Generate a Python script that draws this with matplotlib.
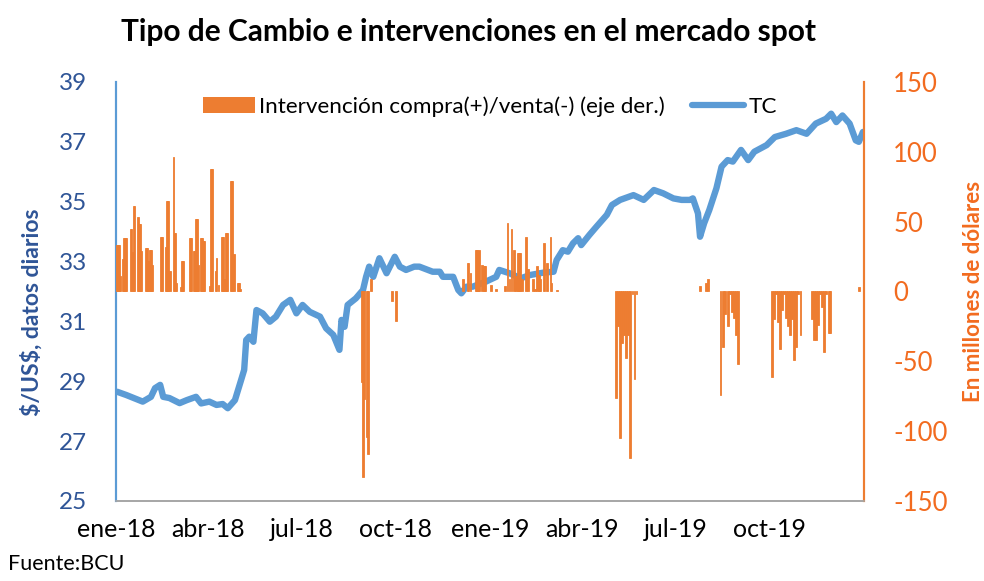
import matplotlib
matplotlib.use("Agg")
import matplotlib.pyplot as plt
import numpy as np
import pandas as pd
from matplotlib.patches import Patch
from matplotlib.lines import Line2D

plt.rcParams['font.family'] = ['Lato', 'DejaVu Sans']
plt.rcParams['axes.unicode_minus'] = False

# ---- Data ----
tc_dates = ["2018-01-02", "2018-01-11", "2018-01-27", "2018-02-04", "2018-02-08", "2018-02-13",
            "2018-02-16", "2018-02-22", "2018-03-04", "2018-03-11", "2018-03-20", "2018-03-25",
            "2018-04-02", "2018-04-09", "2018-04-15", "2018-04-20", "2018-04-27", "2018-05-03",
            "2018-05-06", "2018-05-08", "2018-05-11", "2018-05-15", "2018-05-18", "2018-05-24",
            "2018-05-31", "2018-06-06", "2018-06-13", "2018-06-20", "2018-06-26", "2018-07-02",
            "2018-07-09", "2018-07-19", "2018-07-25", "2018-08-01", "2018-08-07", "2018-08-09",
            "2018-08-12", "2018-08-15", "2018-08-23", "2018-08-30", "2018-09-02", "2018-09-05",
            "2018-09-09", "2018-09-15", "2018-09-22", "2018-09-30", "2018-10-05", "2018-10-11",
            "2018-10-19", "2018-10-24", "2018-11-06", "2018-11-13", "2018-11-16", "2018-11-26",
            "2018-12-01", "2018-12-04", "2018-12-09", "2018-12-15", "2018-12-28", "2019-01-07",
            "2019-01-10", "2019-01-20", "2019-01-31", "2019-02-09", "2019-02-22", "2019-03-04",
            "2019-03-07", "2019-03-13", "2019-03-18", "2019-03-23", "2019-03-28", "2019-03-31",
            "2019-04-08", "2019-04-15", "2019-04-25", "2019-04-30", "2019-05-08", "2019-05-21",
            "2019-05-31", "2019-06-10", "2019-06-19", "2019-06-29", "2019-07-07", "2019-07-15",
            "2019-07-18", "2019-07-23", "2019-07-25", "2019-07-29", "2019-08-03", "2019-08-10",
            "2019-08-15", "2019-08-21", "2019-08-26", "2019-09-03", "2019-09-10", "2019-09-16",
            "2019-09-28", "2019-10-06", "2019-10-17", "2019-10-27", "2019-11-06", "2019-11-15",
            "2019-11-25", "2019-11-30", "2019-12-05", "2019-12-11", "2019-12-18", "2019-12-24",
            "2019-12-27", "2019-12-31"]
tc_values = [28.65, 28.54, 28.32, 28.48, 28.77, 28.88,
             28.48, 28.44, 28.27, 28.37, 28.48, 28.26,
             28.32, 28.21, 28.24, 28.10, 28.37, 29.04,
             29.38, 30.38, 30.49, 30.32, 31.38, 31.27,
             30.99, 31.16, 31.55, 31.72, 31.27, 31.55,
             31.32, 31.16, 30.77, 30.55, 30.05, 31.05,
             30.82, 31.55, 31.77, 32.05, 32.49, 32.83,
             32.49, 33.11, 32.61, 33.16, 32.83, 32.72,
             32.83, 32.83, 32.66, 32.66, 32.49, 32.49,
             32.05, 31.94, 32.16, 32.16, 32.33, 32.49,
             32.72, 32.61, 32.44, 32.55, 32.63, 32.66,
             33.05, 33.38, 33.33, 33.61, 33.78, 33.55,
             33.89, 34.17, 34.56, 34.89, 35.06, 35.22,
             35.06, 35.39, 35.28, 35.11, 35.06, 35.06,
             35.11, 34.61, 33.83, 34.28, 34.72, 35.45,
             36.17, 36.39, 36.34, 36.73, 36.39, 36.67,
             36.89, 37.16, 37.27, 37.39, 37.27, 37.61,
             37.77, 37.94, 37.66, 37.88, 37.61, 37.05,
             37.00, 37.33]

int_dates = ["2018-01-02", "2018-01-03", "2018-01-04", "2018-01-05", "2018-01-08", "2018-01-09",
             "2018-01-10", "2018-01-11", "2018-01-15", "2018-01-16", "2018-01-17", "2018-01-18",
             "2018-01-19", "2018-01-22", "2018-01-23", "2018-01-24", "2018-01-25", "2018-01-30",
             "2018-01-31", "2018-02-01", "2018-02-03", "2018-02-04", "2018-02-05", "2018-02-14",
             "2018-02-15", "2018-02-19", "2018-02-20", "2018-02-21", "2018-02-23", "2018-02-26",
             "2018-02-27", "2018-02-28", "2018-03-01", "2018-03-05", "2018-03-06", "2018-03-07",
             "2018-03-14", "2018-03-15", "2018-03-18", "2018-03-19", "2018-03-20", "2018-03-21",
             "2018-03-22", "2018-03-25", "2018-03-26", "2018-03-27", "2018-03-28", "2018-04-03",
             "2018-04-04", "2018-04-05", "2018-04-08", "2018-04-09", "2018-04-11", "2018-04-14",
             "2018-04-15", "2018-04-16", "2018-04-18", "2018-04-19", "2018-04-23", "2018-04-24",
             "2018-04-26", "2018-04-30", "2018-05-01", "2018-05-02",
             "2018-08-29", "2018-08-30", "2018-08-31", "2018-09-03", "2018-09-04", "2018-09-07",
             "2018-09-27", "2018-10-01",
             "2018-12-06", "2018-12-10", "2018-12-11", "2018-12-13", "2018-12-18", "2018-12-19",
             "2018-12-20", "2018-12-21", "2018-12-24", "2018-12-26", "2018-12-27", "2019-01-02",
             "2019-01-07", "2019-01-16", "2019-01-18", "2019-01-20", "2019-01-22", "2019-01-24",
             "2019-01-26", "2019-01-28", "2019-01-29", "2019-01-30", "2019-02-01", "2019-02-05",
             "2019-02-07", "2019-02-12", "2019-02-14", "2019-02-16", "2019-02-18", "2019-02-19",
             "2019-02-23", "2019-02-26", "2019-03-01", "2019-03-02", "2019-03-07",
             "2019-05-04", "2019-05-06", "2019-05-08", "2019-05-10", "2019-05-12", "2019-05-14",
             "2019-05-16", "2019-05-18", "2019-05-20", "2019-05-22", "2019-05-24",
             "2019-07-25", "2019-07-31", "2019-08-02",
             "2019-08-14", "2019-08-16", "2019-08-18", "2019-08-21", "2019-08-23", "2019-08-25",
             "2019-08-27", "2019-08-29", "2019-08-31",
             "2019-10-03", "2019-10-05", "2019-10-07", "2019-10-09", "2019-10-11", "2019-10-13",
             "2019-10-15", "2019-10-17", "2019-10-19", "2019-10-21", "2019-10-23", "2019-10-25",
             "2019-10-27", "2019-10-29", "2019-10-31",
             "2019-11-11", "2019-11-13", "2019-11-15", "2019-11-17", "2019-11-19", "2019-11-21",
             "2019-11-23", "2019-11-25", "2019-11-28", "2019-11-29", "2019-12-27"]
int_values = [33, 33, 33, 11, 23, 38,
              38, 38, 45, 45, 28, 61,
              61, 53, 48, 48, 29, 31,
              31, 22, 30, 30, 19, 39,
              39, 32, 65, 65, 15, 96,
              42, 42, 6, 3, 22, 22,
              38, 38, 29, 29, 52, 52,
              19, 38, 38, 36, 36, 4,
              88, 88, 15, 24, 5, 39,
              39, 9, 42, 42, 79, 79,
              27, 6, 6, 2,
              -65, -133, -77, -104, -116, 9,
              -6.5, -21,
              8.6, 20.5, 20.5, 13, 30, 30,
              26.5, 30, 19, 18, 18, 5,
              2, 4, 49, 8.6, 45, 30,
              11, 27.7, 27.7, 27.7, 8.6, 39,
              16, 8.6, 1.5, 18, 12, 8.6,
              35, 20.5, 39, 6, 1,
              -76, -25, -105, -37, -31, -47.5,
              -31, -119, -2, -63, -2,
              4, 6, 9,
              -74, -40, -16, -25, -2, -15,
              -19, -31, -52,
              -61, -20, -2, -22, -41, -13,
              -2, -19, -25, -31, -20, -48.7,
              -40, -2, -31,
              -20, -35, -35, -24, -2, -11,
              -43, -2, -30, -30, 3]

tick_dates = ["2018-01-01", "2018-04-01", "2018-07-01", "2018-10-01",
              "2019-01-01", "2019-04-01", "2019-07-01", "2019-10-01"]
tick_labels = ["ene-18", "abr-18", "jul-18", "oct-18",
               "ene-19", "abr-19", "jul-19", "oct-19"]
left_ticks = [25, 27, 29, 31, 33, 35, 37, 39]
right_ticks = [-150, -100, -50, 0, 50, 100, 150]

title = "Tipo de Cambio e intervenciones en el mercado spot"
legend_labels = ["Intervención compra(+)/venta(-) (eje der.)", "TC"]

# ---- Style ----
BLUE = "#5B9BD5"
ORANGE = "#ED7D31"
ORANGE_TXT = "#F26B1F"
NAVY = "#2F5597"

fig = plt.figure(figsize=(9.84, 5.81), dpi=100)
ax1 = fig.add_axes([0.118, 0.1377, 0.760, 0.7212])
ax2 = ax1.twinx()

tcd = pd.to_datetime(tc_dates)
intd = pd.to_datetime(int_dates)

ax1.plot(tcd, tc_values, color=BLUE, linewidth=4.6, solid_joinstyle='round',
         solid_capstyle='round', zorder=2)
ax2.bar(intd, int_values, width=1.8, color=ORANGE, edgecolor=ORANGE, linewidth=0.6, zorder=3)

ax1.set_xlim(pd.Timestamp("2018-01-01"), pd.Timestamp("2020-01-01"))
ax1.set_ylim(25, 39)
ax2.set_ylim(-150, 150)
ax1.set_yticks(left_ticks)
ax2.set_yticks(right_ticks)
ax1.set_xticks(pd.to_datetime(tick_dates))
ax1.set_xticklabels(tick_labels)

ax1.tick_params(axis='x', length=0, pad=12, labelsize=18, labelcolor='black')
ax1.tick_params(axis='y', length=0, pad=21, labelsize=17.5, labelcolor=NAVY)
ax2.tick_params(axis='y', length=0, pad=21, labelsize=18.5, labelcolor=ORANGE_TXT)

for ax in (ax1, ax2):
    ax.spines['top'].set_visible(False)
    ax.spines['left'].set_color(BLUE)
    ax.spines['right'].set_color(ORANGE)
    ax.spines['bottom'].set_color('#A6A6A6')
    ax.spines['left'].set_linewidth(1.5)
    ax.spines['right'].set_linewidth(1.5)
    ax.spines['bottom'].set_linewidth(1.2)

ax1.set_ylabel(r"\$/US\$, datos diarios", color=NAVY, fontsize=16.5, fontweight='bold')
ax1.yaxis.set_label_coords(-0.0976, 0.451)
ax2.set_ylabel("En millones de dólares", color=ORANGE_TXT, fontsize=16, fontweight='bold')
ax2.yaxis.set_label_coords(1.133, 0.5)

fig.text(0.476, 0.945, title, ha='center', va='center', fontsize=21.5, fontweight='bold')

handles = [Patch(facecolor=ORANGE, edgecolor='none'),
           Line2D([0], [0], color=BLUE, linewidth=4.5, solid_capstyle='round')]
ax2.legend(handles, legend_labels, loc='upper center', bbox_to_anchor=(0.5, 1.015),
           ncol=2, frameon=False, fontsize=16.2, handlelength=2.3, handleheight=0.7,
           columnspacing=1.2, handletextpad=0.2)

fig.text(0.008, 0.012, "Fuente:BCU", ha='left', va='bottom', fontsize=15.5)

fig.savefig("out.png", dpi=100)
